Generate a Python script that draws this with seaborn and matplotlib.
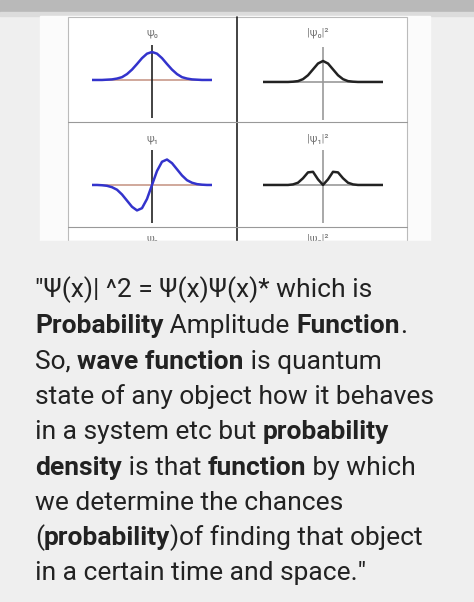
import matplotlib
matplotlib.use("Agg")
import matplotlib.pyplot as plt
import seaborn as sns
import pandas as pd
from matplotlib.patches import Rectangle

sns.set_style("white")
plt.rcParams['font.family'] = ['Roboto', 'DejaVu Sans']

# sample points
x = [-3, -2.75, -2.5, -2.25, -2, -1.75, -1.5, -1.25, -1, -0.75, -0.5, -0.25, 0,
     0.25, 0.5, 0.75, 1, 1.25, 1.5, 1.75, 2, 2.25, 2.5, 2.75, 3]
psi0 = [0, 0, 0, 0.01, 0.02, 0.05, 0.1, 0.21, 0.37, 0.57, 0.78, 0.94, 1.0,
        0.94, 0.78, 0.57, 0.37, 0.21, 0.1, 0.05, 0.02, 0.01, 0, 0, 0]
psi1 = [0, 0, -0.01, -0.03, -0.08, -0.17, -0.34, -0.56, -0.78, -0.91, -0.83, -0.5, 0.0,
        0.5, 0.83, 0.91, 0.78, 0.56, 0.34, 0.17, 0.08, 0.03, 0.01, 0, 0]
prob0 = [0, 0, 0, 0, 0, 0, 0.01, 0.03, 0.1, 0.24, 0.45, 0.66, 0.75,
         0.66, 0.45, 0.24, 0.1, 0.03, 0.01, 0, 0, 0, 0, 0, 0]
prob1 = [0, 0, 0, 0, 0, 0, 0.02, 0.08, 0.24, 0.45, 0.47, 0.2, 0.0,
         0.2, 0.47, 0.45, 0.24, 0.08, 0.02, 0, 0, 0, 0, 0, 0]
titles = ["ψ₀", "|ψ₀|²", "ψ₁", "|ψ₁|²", "ψ₂", "|ψ₂|²"]

lines = [
    [("\"Ψ(x)| ^2 = Ψ(x)Ψ(x)* which is", False)],
    [("Probability", True), (" Amplitude ", False), ("Function", True), (".", False)],
    [("So, ", False), ("wave function", True), (" is quantum", False)],
    [("state of any object how it behaves", False)],
    [("in a system etc but ", False), ("probability", True)],
    [("density", True), (" is that ", False), ("function", True), (" by which", False)],
    [("we determine the chances", False)],
    [("(", False), ("probability", True), (")of finding that object", False)],
    [("in a certain time and space.\"", False)],
]

W, H = 474, 602
fig = plt.figure(figsize=(W / 100, H / 100), dpi=100)
fig.patch.set_facecolor("#efefef")

def rect(l, t, w, h):
    return [l / W, 1 - (t + h) / H, w / W, h / H]

bg = fig.add_axes([0, 0, 1, 1])
bg.set_xlim(0, W)
bg.set_ylim(H, 0)
bg.axis("off")
bg.add_patch(Rectangle((0, 0), W, 12, color="#b9b9b9"))
bg.add_patch(Rectangle((0, 12), W, 4, color="#dcdcdc"))
bg.add_patch(Rectangle((40, 16), 390, 225, color="#fbfbfb"))
bg.add_patch(Rectangle((68, 17), 339, 224, facecolor="white", edgecolor="#bbbbbb", lw=0.8))
bg.plot([237, 237], [17, 241], color="#222222", lw=1.2)
bg.plot([68, 407], [122, 122], color="#999999", lw=0.8)
bg.plot([68, 407], [227, 227], color="#999999", lw=0.8)

tpos = [(152, 33), (318, 33), (152, 139), (318, 139), (152, 239), (318, 239)]
for t, (tx, ty) in zip(titles, tpos):
    bg.text(tx, ty, t, fontsize=8, color="#777777", ha="center", va="center", clip_on=True)
bg.add_patch(Rectangle((40, 241), 390, 20, color="#efefef", zorder=5))

cells = [
    (92, 45, psi0, "#3333cc", "#c89a8a", "#222222"),
    (263, 47, prob0, "#222222", "#999999", "#999999"),
    (92, 150, psi1, "#3333cc", "#c89a8a", "#222222"),
    (263, 150, prob1, "#222222", "#999999", "#999999"),
]
for l, t, vals, col, basecol, vcol in cells:
    ax = fig.add_axes(rect(l, t, 120, 73))
    ax.set_xlim(-3, 3)
    ax.set_ylim(-1.36, 1.25)
    ax.axis("off")
    ax.axhline(0, color=basecol, lw=1.2)
    ax.axvline(0, color=vcol, lw=1.2)
    df = pd.DataFrame({"x": x, "y": vals})
    sns.lineplot(data=df, x="x", y="y", color=col, lw=1.8, ax=ax)

renderer = fig.canvas.get_renderer()
ys = [297, 333, 369, 404, 439, 475, 510, 545, 580]
for row, y in zip(lines, ys):
    cx = 35
    for s, b in row:
        t = bg.text(cx, y, s, fontsize=19, color="#222222",
                    fontweight="bold" if b else "normal", va="baseline")
        cx += t.get_window_extent(renderer).width

fig.savefig("out.png", dpi=100, facecolor=fig.get_facecolor())
